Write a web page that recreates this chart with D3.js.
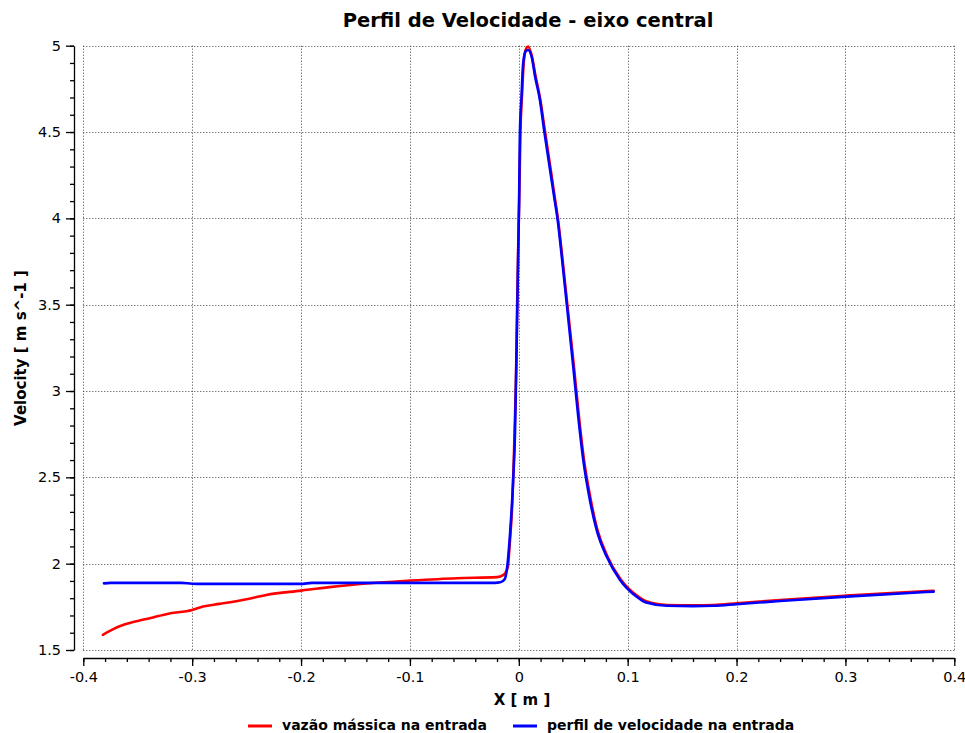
<!DOCTYPE html>
<html>
<head>
<meta charset="utf-8">
<script src="https://cdn.jsdelivr.net/npm/d3@7"></script>
<style>
  html, body { margin: 0; padding: 0; background: #fff; }
  svg { display: block; font-family: "DejaVu Sans", sans-serif; }
</style>
</head>
<body>
<svg id="chart" width="965" height="733"></svg>
<script>
// Velocity along the central axis for two inlet boundary conditions
const xTicks = [-0.4, -0.3, -0.2, -0.1, 0, 0.1, 0.2, 0.3, 0.4];
const yTicks = [1.5, 2, 2.5, 3, 3.5, 4, 4.5, 5];

// inlet mass flow ("vazão mássica na entrada")
const xMassFlow = [-0.382, -0.3725, -0.363, -0.349, -0.339, -0.323, -0.300, -0.290, -0.275, -0.250,
  -0.232, -0.200, -0.174, -0.137, -0.100, -0.057, -0.020, -0.014, -0.010, -0.0085,
  -0.006, -0.0045, -0.0035, -0.0025, -0.0015, -0.0005, 0.0005, 0.0015, 0.003, 0.0045,
  0.0065, 0.0085, 0.0118, 0.0152, 0.0197, 0.0239, 0.0296, 0.0333, 0.0359, 0.0402,
  0.0444, 0.0505, 0.0551, 0.0597, 0.0658, 0.072, 0.0812, 0.0935, 0.1085, 0.117,
  0.136, 0.160, 0.179, 0.200, 0.240, 0.301, 0.381];
const vMassFlow = [1.588, 1.621, 1.646, 1.670, 1.684, 1.709, 1.732, 1.752, 1.767, 1.794,
  1.819, 1.844, 1.864, 1.887, 1.902, 1.916, 1.922, 1.935, 1.983, 2.10,
  2.35, 2.62, 2.85, 3.10, 3.50, 3.85, 4.15, 4.50, 4.72, 4.90,
  4.98, 4.995, 4.945, 4.83, 4.69, 4.51, 4.27, 4.11, 4.00, 3.76,
  3.51, 3.15, 2.86, 2.61, 2.38, 2.20, 2.045, 1.91, 1.815, 1.782,
  1.761, 1.759, 1.761, 1.770, 1.790, 1.815, 1.843];

// inlet velocity profile ("perfil de velocidade na entrada")
const xVelProfile = [-0.381, -0.375, -0.31, -0.300, -0.29, -0.200, -0.19, -0.100, -0.022, -0.017,
  -0.013, -0.011, -0.008, -0.005, -0.0035, -0.0026, -0.0014, -0.0005, 0.0003, 0.001,
  0.0025, 0.004, 0.0065, 0.0085, 0.0118, 0.015, 0.0194, 0.0235, 0.0292, 0.0329,
  0.0355, 0.0398, 0.044, 0.050, 0.0546, 0.0592, 0.0653, 0.0715, 0.0807, 0.093,
  0.108, 0.117, 0.136, 0.160, 0.179, 0.200, 0.240, 0.301, 0.381];
const vVelProfile = [1.886, 1.889, 1.889, 1.884, 1.883, 1.883, 1.889, 1.889, 1.889, 1.892,
  1.910, 1.964, 2.177, 2.504, 2.756, 3.045, 3.470, 3.817, 4.107, 4.493,
  4.705, 4.898, 4.970, 4.975, 4.936, 4.820, 4.686, 4.500, 4.261, 4.107,
  4.000, 3.760, 3.508, 3.141, 2.852, 2.601, 2.369, 2.196, 2.041, 1.906,
  1.810, 1.775, 1.756, 1.754, 1.756, 1.765, 1.784, 1.809, 1.838];

const legendLabels = ["vazão mássica na entrada", "perfil de velocidade na entrada"];
const seriesColors = ["#ff0000", "#0000ff"];

const svg = d3.select("#chart");
const plot = { left: 83.3, right: 954.3, top: 45.7, bottom: 650 };
const yAxisX = 74, xAxisY = 658;

const x = d3.scaleLinear().domain([-0.4, 0.4]).range([plot.left, plot.right]);
const y = d3.scaleLinear().domain([1.5, 5]).range([plot.bottom, plot.top]);

// plain hyphen-minus labels, e.g. "-0.4"
const fmt = d => String(+(+d).toFixed(2));

// dotted grid
const grid = svg.append("g").attr("stroke", "#444").attr("stroke-width", 1)
  .attr("stroke-dasharray", "1,2").attr("fill", "none");
grid.selectAll("line.v").data(xTicks).join("line").attr("class", "v")
  .attr("x1", d => Math.round(x(d)) + 0.5).attr("x2", d => Math.round(x(d)) + 0.5)
  .attr("y1", plot.top).attr("y2", plot.bottom);
grid.selectAll("line.h").data(yTicks).join("line").attr("class", "h")
  .attr("y1", d => Math.round(y(d)) + 0.5).attr("y2", d => Math.round(y(d)) + 0.5)
  .attr("x1", plot.left).attr("x2", plot.right);

// axes: minor ticks first, then labelled major ticks
const xMinor = d3.range(-0.4, 0.4001, 0.02);
const yMinor = d3.range(1.5, 5.0001, 0.1);

function styleAxis(g) {
  g.select(".domain").attr("stroke", "#000").attr("stroke-width", 1.3);
  g.selectAll(".tick line").attr("stroke", "#000").attr("stroke-width", 1.3);
  g.selectAll(".tick text").attr("fill", "#000");
}

svg.append("g").attr("transform", `translate(0,${xAxisY})`)
  .call(d3.axisBottom(x).tickValues(xMinor).tickSize(4).tickSizeOuter(0).tickFormat(""))
  .call(styleAxis);
svg.append("g").attr("transform", `translate(0,${xAxisY})`)
  .call(d3.axisBottom(x).tickValues(xTicks).tickSize(8).tickSizeOuter(0).tickPadding(6).tickFormat(fmt))
  .call(styleAxis)
  .call(g => g.select(".domain").remove())
  .selectAll(".tick text").attr("font-size", 14.5).attr("font-family", "DejaVu Sans");

svg.append("g").attr("transform", `translate(${yAxisX},0)`)
  .call(d3.axisLeft(y).tickValues(yMinor).tickSize(4).tickSizeOuter(0).tickFormat(""))
  .call(styleAxis);
svg.append("g").attr("transform", `translate(${yAxisX},0)`)
  .call(d3.axisLeft(y).tickValues(yTicks).tickSize(8).tickSizeOuter(0).tickPadding(5).tickFormat(fmt))
  .call(styleAxis)
  .call(g => g.select(".domain").remove())
  .selectAll(".tick text").attr("font-size", 14.5).attr("font-family", "DejaVu Sans");

// curves
const line = d3.line().x(d => x(d[0])).y(d => y(d[1])).curve(d3.curveMonotoneX);
const series = [
  d3.zip(xMassFlow, vMassFlow),
  d3.zip(xVelProfile, vVelProfile)
];
svg.append("g").selectAll("path").data(series).join("path")
  .attr("d", line).attr("fill", "none")
  .attr("stroke", (d, i) => seriesColors[i])
  .attr("stroke-width", 2.6).attr("stroke-linejoin", "round").attr("stroke-linecap", "round");

// titles
svg.append("text").attr("x", 528).attr("y", 27).attr("text-anchor", "middle")
  .attr("font-size", 19.5).attr("font-weight", "bold").text("Perfil de Velocidade - eixo central");
svg.append("text").attr("x", 522).attr("y", 705).attr("text-anchor", "middle")
  .attr("font-size", 15).attr("font-weight", "bold").text("X [ m ]");
svg.append("text").attr("transform", "translate(26,348) rotate(-90)").attr("text-anchor", "middle")
  .attr("font-size", 15).attr("font-weight", "bold").text("Velocity [ m s^-1 ]");

// legend
const legendX = [248, 513];
const lg = svg.append("g").selectAll("g").data(legendLabels).join("g")
  .attr("transform", (d, i) => `translate(${legendX[i]},726)`);
lg.append("line").attr("x1", 0).attr("x2", 24).attr("stroke", (d, i) => seriesColors[i]).attr("stroke-width", 3);
lg.append("text").attr("x", 34).attr("y", 4).attr("font-size", 14).attr("font-weight", "bold")
  .text(d => d);
</script>
</body>
</html>
